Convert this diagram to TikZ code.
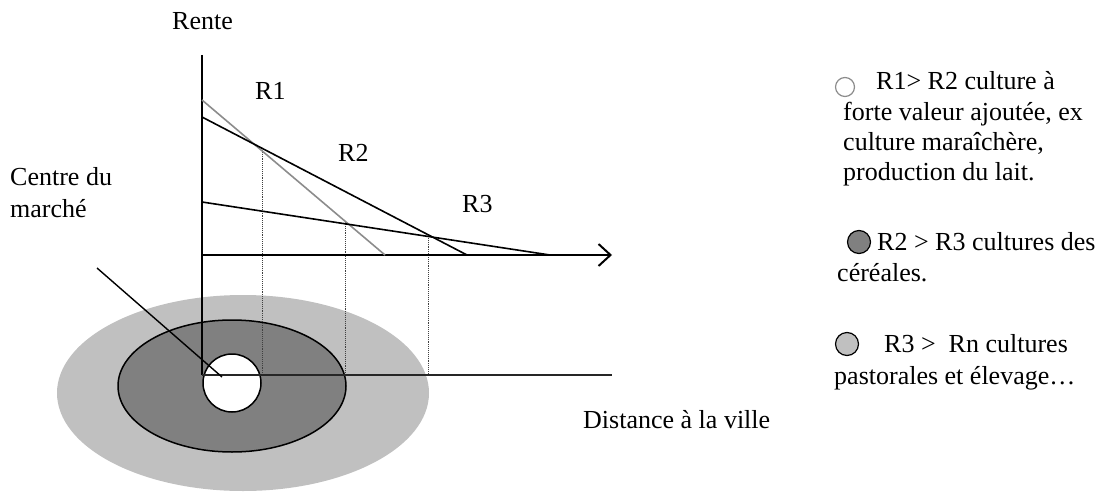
\documentclass[tikz,border=0pt]{standalone}
\usepackage{fontspec}
\setmainfont{Liberation Serif}
\usetikzlibrary{arrows.meta}
\definecolor{zoneC}{HTML}{C0C0C0}
\definecolor{zoneB}{HTML}{808080}
\definecolor{lineA}{HTML}{8C8C8C}
\begin{document}
\begin{tikzpicture}[x=1pt,y=-1pt,
  txt/.style={font=\fontsize{26}{30}\selectfont, inner sep=0pt, anchor=base west},
  axis/.style={line width=2pt},
  slope/.style={line width=1.6pt},
  proj/.style={line width=0.9pt, densely dotted, black!75},
  legdot/.style={circle, draw=black, line width=1.2pt, minimum size=23pt, inner sep=0pt}]
\useasboundingbox (0,0) rectangle (1110,495);
% zones
\fill[zoneC] (243,393) ellipse [x radius=186, y radius=98];
\filldraw[fill=zoneB, draw=black, line width=1.5pt] (232,386) ellipse [x radius=114, y radius=66];
\filldraw[fill=white, draw=black, line width=1.5pt] (232,383) circle [radius=29];
% coordinates
\coordinate (O) at (202,375);
\coordinate (top) at (202,55);
\coordinate (xa0) at (202,255);
\coordinate (xa1) at (612,255);
\coordinate (dend) at (612,375);
\coordinate (r1a) at (202,100);
\coordinate (r1b) at (385,255);
\coordinate (r2a) at (202,117);
\coordinate (r2b) at (467,255);
\coordinate (r3a) at (202,202);
\coordinate (r3b) at (550,255);
\coordinate (d1) at (262,148);
\coordinate (d2) at (345,222);
\coordinate (d3) at (428,236);
\coordinate (p0) at (97,268);
\coordinate (p1) at (222,377);
% projections
\draw[proj] (d1) -- (d1 |- O);
\draw[proj] (d2) -- (d2 |- O);
\draw[proj] (d3) -- (d3 |- O);
% axes
\draw[axis] (top) -- (O);
\draw[axis, -{Straight Barb[length=12pt, width=22pt, line width=2pt]}] (xa0) -- (xa1);
\draw[line width=1.5pt, black!85] (O) -- (dend);
% rent lines
\draw[slope, lineA] (r1a) -- (r1b);
\draw[slope] (r2a) -- (r2b);
\draw[slope] (r3a) -- (r3b);
% pointer
\draw[line width=1.4pt] (p0) -- (p1);
% labels
\node[txt] (rente) at (172,30) {Rente};
\node[txt] (lr1) at (255,99) {R1};
\node[txt] (lr2) at (338,161) {R2};
\node[txt] (lr3) at (462,212) {R3};
\node[txt] (cm1) at (10,185) {Centre du};
\node[txt] (cm2) at (10,217) {marché};
\node[txt] (dist) at (583,428) {Distance à la ville};
% legend
\node[legdot, draw=black!45, fill=white, minimum size=19pt] (c1) at (845,87) {};
\node[txt] (t1a) at (876,89) {R1> R2 culture à};
\node[txt] (t1b) at (843,120) {forte valeur ajoutée, ex};
\node[txt] (t1c) at (843,150) {culture maraîchère,};
\node[txt] (t1d) at (843,180) {production du lait.};
\node[legdot, fill=zoneB] (c2) at (859,242) {};
\node[txt] (t2a) at (877,250) {R2 > R3 cultures des};
\node[txt] (t2b) at (837,281) {céréales.};
\node[legdot, fill=zoneC] (c3) at (847,344) {};
\node[txt] (t3a) at (884,352) {R3 >~ Rn cultures};
\node[txt] (t3b) at (834,384) {pastorales et élevage…};
\end{tikzpicture}
\end{document}
